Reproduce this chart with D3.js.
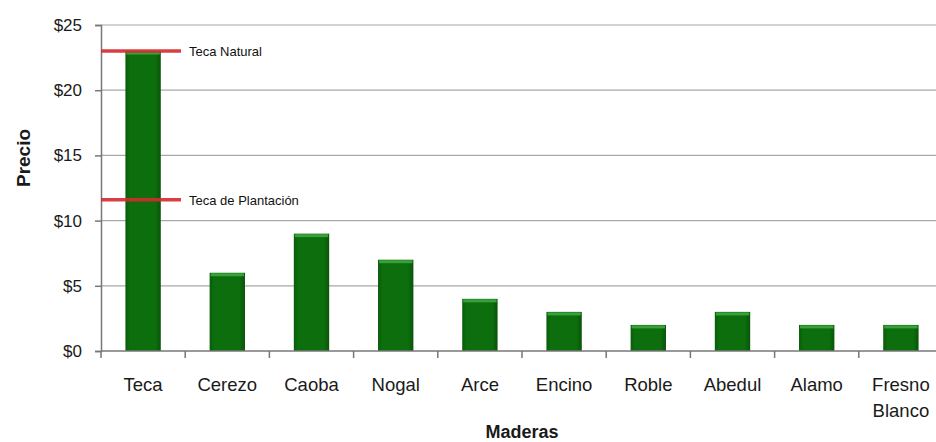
<!DOCTYPE html>
<html>
<head>
<meta charset="utf-8">
<script src="https://cdn.jsdelivr.net/npm/d3@7"></script>
<style>
  html, body { margin: 0; padding: 0; background: #fff; }
  svg { display: block; font-family: "Liberation Sans", Arial, sans-serif; }
</style>
</head>
<body>
<svg id="chart" width="936" height="442"></svg>
<script>
// Wood prices per species
const categories = ["Teca", "Cerezo", "Caoba", "Nogal", "Arce", "Encino", "Roble", "Abedul", "Alamo", "Fresno Blanco"];
const prices = [23, 6, 9, 7, 4, 3, 2, 3, 2, 2];
const refNames = ["Teca Natural", "Teca de Plantación"];
const refValues = [23, 11.6];
const yTicks = [0, 5, 10, 15, 20, 25];

const svg = d3.select("#chart");
const margin = { left: 101, right: -7, top: 25, bottom: 91 };
const W = 936, H = 442;

const x = d3.scaleBand()
  .domain(categories)
  .range([margin.left, W - margin.right])
  .paddingInner(0.58)
  .paddingOuter(0.29);

const y = d3.scaleLinear()
  .domain([0, 25])
  .range([H - margin.bottom, margin.top]);

// Bar shading: darker sides, bright rim on top
const defs = svg.append("defs");
const grad = defs.append("linearGradient").attr("id", "barSide").attr("x1", 0).attr("x2", 1);
grad.append("stop").attr("offset", "0%").attr("stop-color", "#0a5c0a");
grad.append("stop").attr("offset", "12%").attr("stop-color", "#0c6e0c");
grad.append("stop").attr("offset", "85%").attr("stop-color", "#0c6e0c");
grad.append("stop").attr("offset", "100%").attr("stop-color", "#095409");

// Gridlines
svg.append("g")
  .selectAll("line")
  .data(yTicks.filter(d => d > 0))
  .join("line")
  .attr("x1", margin.left).attr("x2", W)
  .attr("y1", d => y(d)).attr("y2", d => y(d))
  .attr("stroke", "#a8a8a8").attr("stroke-width", 1.2);

// Y axis
const yAxis = svg.append("g")
  .attr("transform", `translate(${margin.left},0)`)
  .call(d3.axisLeft(y).tickValues(yTicks).tickSize(6).tickPadding(13).tickFormat(d => "$" + d));
yAxis.select(".domain").attr("stroke", "#777").attr("stroke-width", 1.5);
yAxis.selectAll(".tick line").attr("stroke", "#777").attr("stroke-width", 1.5);
yAxis.selectAll(".tick text")
  .attr("font-size", 17).attr("fill", "#1a1a1a")
  .attr("font-family", "'Liberation Sans', Arial, sans-serif");

// Bars
const bars = svg.append("g");
bars.selectAll("rect.bar")
  .data(categories)
  .join("rect")
  .attr("class", "bar")
  .attr("x", d => x(d))
  .attr("width", x.bandwidth())
  .attr("y", (d, i) => y(prices[i]))
  .attr("height", (d, i) => y(0) - y(prices[i]))
  .attr("fill", "url(#barSide)");
bars.selectAll("rect.rim")
  .data(categories)
  .join("rect")
  .attr("class", "rim")
  .attr("x", d => x(d) + 1)
  .attr("width", x.bandwidth() - 2)
  .attr("y", (d, i) => y(prices[i]) + 0.5)
  .attr("height", 3)
  .attr("fill", "#3aa03a");

// X axis
const step = x.step();
const boundaries = d3.range(categories.length + 1).map(i => margin.left + i * step);
svg.append("line")
  .attr("x1", margin.left).attr("x2", W)
  .attr("y1", y(0)).attr("y2", y(0))
  .attr("stroke", "#777").attr("stroke-width", 1.5);
svg.append("g")
  .selectAll("line")
  .data(boundaries)
  .join("line")
  .attr("x1", d => d).attr("x2", d => d)
  .attr("y1", y(0)).attr("y2", y(0) + 7)
  .attr("stroke", "#777").attr("stroke-width", 1.5);

svg.append("g")
  .selectAll("text")
  .data(categories)
  .join("text")
  .attr("x", d => x(d) + x.bandwidth() / 2)
  .attr("y", y(0) + 40)
  .attr("text-anchor", "middle")
  .attr("font-size", 18.5)
  .attr("fill", "#1a1a1a")
  .each(function(d) {
    const words = d.split(" ");
    const t = d3.select(this);
    words.forEach((w, i) => {
      t.append("tspan")
        .attr("x", x(d) + x.bandwidth() / 2)
        .attr("dy", i === 0 ? 0 : 26)
        .text(w);
    });
  });

// Reference lines for Teca
const refG = svg.append("g");
refG.selectAll("line")
  .data(refValues)
  .join("line")
  .attr("x1", margin.left).attr("x2", margin.left + 80)
  .attr("y1", d => y(d)).attr("y2", d => y(d))
  .attr("stroke", "#d42a2e").attr("stroke-width", 3.5)
  .attr("stroke-opacity", 0.9);
refG.selectAll("text")
  .data(refNames)
  .join("text")
  .attr("x", margin.left + 88)
  .attr("y", (d, i) => y(refValues[i]) + 5)
  .attr("font-size", 13)
  .attr("fill", "#111")
  .text(d => d);

// Axis titles
svg.append("text")
  .attr("x", 522)
  .attr("y", 438)
  .attr("text-anchor", "middle")
  .attr("font-size", 18)
  .attr("font-weight", "bold")
  .attr("fill", "#1a1a1a")
  .text("Maderas");

svg.append("text")
  .attr("transform", `translate(30, 158) rotate(-90)`)
  .attr("text-anchor", "middle")
  .attr("font-size", 19)
  .attr("font-weight", "bold")
  .attr("fill", "#1a1a1a")
  .text("Precio");
</script>
</body>
</html>
